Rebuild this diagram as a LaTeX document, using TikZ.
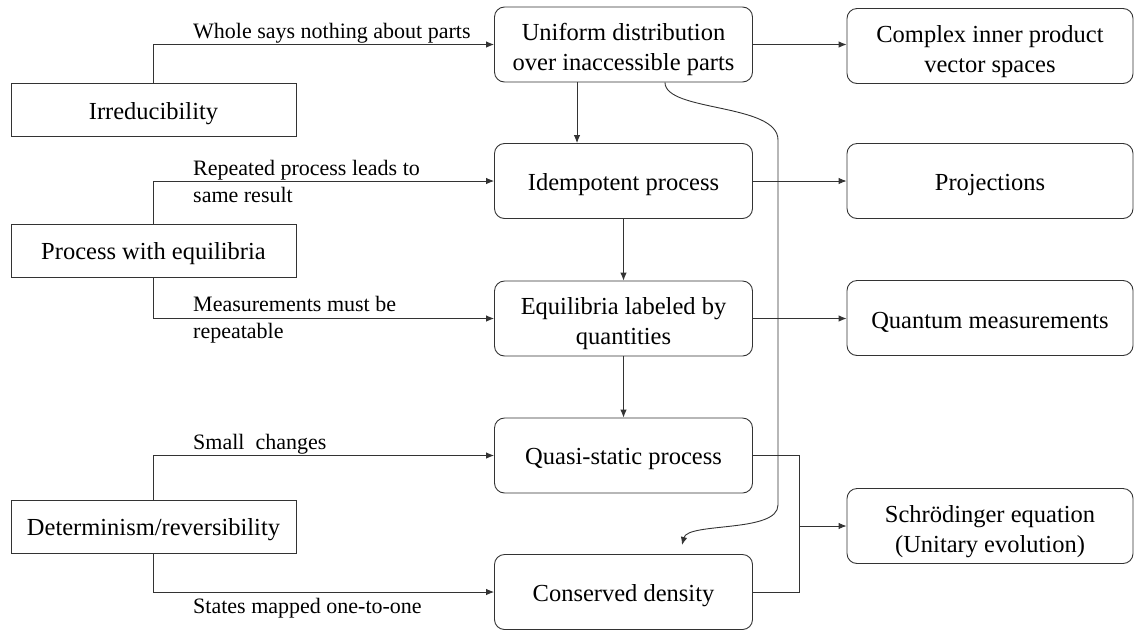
\documentclass[tikz,border=0pt]{standalone}
\usepackage{fontspec}
\setmainfont{Liberation Serif}
\usetikzlibrary{arrows.meta}
\tikzset{
  boxtxt/.style={font=\fontsize{24.5}{30}\selectfont, align=center, inner sep=0pt, text=black,
    execute at begin node={\rule{0pt}{24pt}}},
  twoline/.style={text height=57pt, text depth=5pt},
  leftbox/.style={boxtxt, draw=black!80, line width=0.9pt, rectangle, minimum width=285pt, minimum height=53pt},
  midbox/.style={boxtxt, draw=black!80, line width=0.9pt, rectangle, rounded corners=10pt, minimum width=258pt, minimum height=75pt},
  rightbox/.style={boxtxt, draw=black!80, line width=0.9pt, rectangle, rounded corners=10pt, minimum width=286pt, minimum height=75pt},
  conn/.style={draw=black!80, line width=0.9pt},
  arr/.style={conn, -{Latex[length=8pt,width=6.5pt]}},
  lbl/.style={font=\fontsize{22}{27}\selectfont, align=left, inner sep=0pt, anchor=base west, text=black}
}
\begin{document}
\begin{tikzpicture}[x=1pt,y=-1pt]
\useasboundingbox (0,0) rectangle (1135,630);
% left boxes
\node[leftbox] (irr) at (153.5,110) {Irreducibility};
\node[leftbox] (pwe) at (153.5,250.5) {Process with equilibria};
\node[leftbox] (det) at (153.5,526.5) {Determinism/reversibility};
% middle boxes
\node[midbox, twoline] (uni) at (623.5,44.5) {Uniform distribution\\over inaccessible parts};
\node[midbox] (idem) at (623.5,181) {Idempotent process};
\node[midbox, twoline] (equi) at (623.5,318.5) {Equilibria labeled by\\quantities};
\node[midbox] (quasi) at (623.5,455.5) {Quasi-static process};
\node[midbox] (cons) at (623.5,592) {Conserved density};
% right boxes
\node[rightbox, twoline] (compl) at (990,46) {Complex inner product\\vector spaces};
\node[rightbox] (proj) at (990,181) {Projections};
\node[rightbox] (qm) at (990,318) {Quantum measurements};
\node[rightbox, twoline] (schr) at (990,526) {Schrödinger equation\\(Unitary evolution)};
% helper coordinates
\coordinate (ux) at (577,0);
\coordinate (jx) at (799,0);
\coordinate (cx) at (665,0);
\coordinate (ce) at (682,545);
% left connectors
\draw[arr] (irr.north) |- (uni.west);
\draw[arr] (pwe.north) |- (idem.west);
\draw[arr] (pwe.south) |- (equi.west);
\draw[arr] (det.north) |- (quasi.west);
\draw[arr] (det.south) |- (cons.west);
% labels
\node[lbl] (l1) at (193,38) {Whole says nothing about parts};
\node[lbl] (l2) at (193,202) {Repeated process leads to\\same result};
\node[lbl] (l3) at (193,338) {Measurements must be\\repeatable};
\node[lbl] (l4) at (193,449) {Small\ \ changes};
\node[lbl] (l5) at (193,613) {States mapped one-to-one};
% vertical middle connectors
\draw[arr] (ux |- uni.south) -- (ux |- idem.north);
\draw[arr] (idem.south) -- (equi.north);
\draw[arr] (equi.south) -- (quasi.north);
% right connectors
\draw[arr] (uni.east) -- (uni.east -| compl.west);
\draw[arr] (idem.east) -- (idem.east -| proj.west);
\draw[arr] (equi.east) -- (equi.east -| qm.west);
% junction to Schroedinger
\draw[conn] (quasi.east) -- (jx |- quasi.east) -- (jx |- cons.east) -- (cons.east);
\draw[arr] (jx |- schr.west) -- (schr.west);
% long curve
\draw[arr] (cx |- uni.south) .. controls (665,112) and (778,103) .. (778,140)
  -- (778,505) .. controls (778,533) and (688,522) .. (ce);
\end{tikzpicture}
\end{document}
